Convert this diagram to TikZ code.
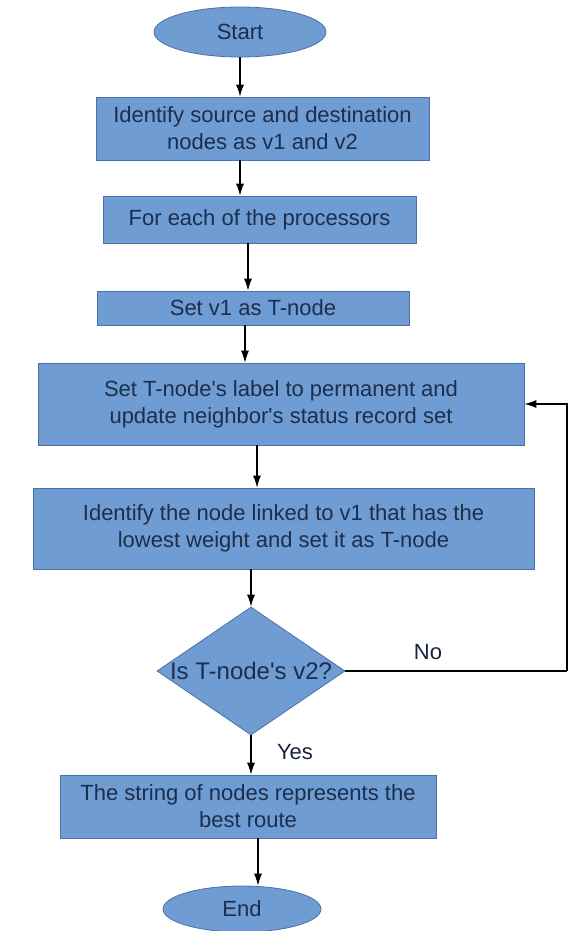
\documentclass[tikz,border=0pt]{standalone}
\usepackage{fontspec}
\setmainfont{Liberation Sans}
\usetikzlibrary{shapes.geometric,arrows.meta}

\definecolor{boxfill}{HTML}{6F9CD3}
\definecolor{boxline}{HTML}{4A70A6}
\definecolor{boxtext}{HTML}{1C2E4C}

\tikzset{
  block/.style={draw=boxline, fill=boxfill, line width=0.8pt, text=boxtext,
    font=\fontsize{22}{27}\selectfont, align=center, inner sep=0pt},
  terminal/.style={block, ellipse},
  decision/.style={block, diamond},
  flow/.style={line width=1.1pt, -{Latex[length=12pt,width=8pt]}}
}

\begin{document}
\begin{tikzpicture}[x=1pt,y=-1pt]

	\useasboundingbox (0,0) rectangle (568,931);

	\node[terminal, minimum width=172pt, minimum height=50pt] (start) at (240,32) {Start};
	\node[block, minimum width=333pt, minimum height=63pt] (ident) at (262.5,128.5)
		{Identify source and destination\\nodes as v1 and v2};
	\node[block, minimum width=313pt, minimum height=47pt] (each) at (259.5,219.5)
		{For each of the processors};
	\node[block, minimum width=312pt, minimum height=34pt] (setv) at (253,308)
		{Set v1 as T-node};
	\node[block, minimum width=486pt, minimum height=82pt] (perm) at (281,404)
		{Set T-node\textquotesingle s label to permanent and\\update neighbor\textquotesingle s status record set};
	\node[block, minimum width=501pt, minimum height=81pt] (low) at (283.5,528.5)
		{Identify the node linked to v1 that has the\\lowest weight and set it as T-node};
	\node[decision, minimum width=188pt, minimum height=128pt, aspect=1.47] (isv) at (251,671) {};
	\node[text=boxtext, font=\fontsize{24}{28}\selectfont] (isvtext) at (isv) {Is T-node\textquotesingle s v2?};
	\node[block, minimum width=376pt, minimum height=63pt] (route) at (248,806.5)
		{The string of nodes represents the\\best route};
	\node[terminal, minimum width=158pt, minimum height=46pt] (stop) at (242,909) {End};

	\coordinate (back) at (567,671);

	\draw[flow] (start) -- (start |- ident.north);
	\draw[flow] (ident.south -| start) -- (each.north -| start);
	\draw[flow] ([xshift=-11.5pt]each.south) -- ([xshift=-11.5pt]each.south |- setv.north);
	\draw[flow] ([xshift=-8pt]setv.south) -- ([xshift=-8pt]setv.south |- perm.north);
	\draw[flow] ([xshift=-24pt]perm.south) -- ([xshift=-24pt]perm.south |- low.north);
	\draw[flow] (low.south -| isv) -- (isv.north);
	\draw[flow] (isv.south) -- (isv.south |- route.north);
	\draw[flow] ([xshift=10pt]route.south) -- ([xshift=10pt]route.south |- stop.north);
	\draw[line width=1.1pt] (isv.east) -- (back);
	\draw[flow] (back) |- (perm.east);

	\node[font=\fontsize{22}{27}\selectfont, text=boxtext!80!black] (no) at (428,652) {No};
	\node[font=\fontsize{22}{27}\selectfont, text=boxtext!80!black] (yes) at (295,752) {Yes};

\end{tikzpicture}
\end{document}
